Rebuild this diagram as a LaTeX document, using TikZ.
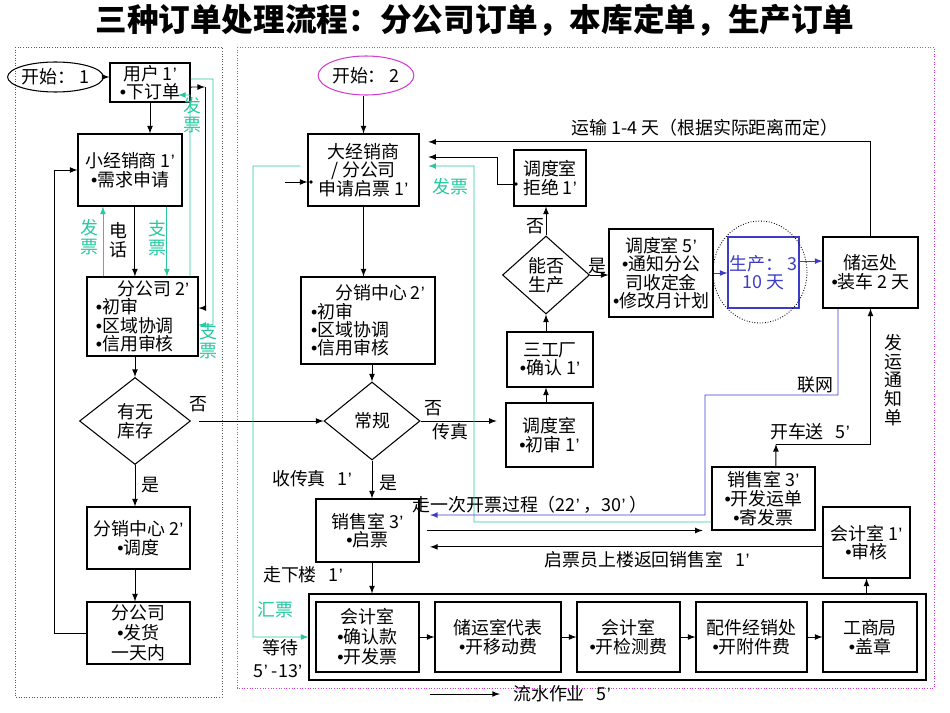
\documentclass[tikz,border=0pt]{standalone}
\usepackage{fontspec}
\setmainfont{Noto Sans CJK SC}
\newfontfamily\xifont{Liberation Sans}
\usetikzlibrary{shapes.geometric}
\definecolor{piao}{RGB}{40,200,160}
\definecolor{wang}{RGB}{60,60,200}
\definecolor{zi}{RGB}{210,60,210}
\newcommand{\pxu}{0.02cm}
\newcommand{\wenzi}{\fontsize{10.2}{10.6}\selectfont}
\newcommand{\jinzi}{\fontsize{10.2}{8.8}\selectfont}
\newcommand{\kuanzi}{\fontsize{10.2}{11.4}\selectfont}
\newcommand{\dian}{{\xifont •}}
\newcommand{\fen}{{\xifont ’}}

\begin{document}
\begin{tikzpicture}[x=0.02cm, y=-0.02cm, >=latex, font=\wenzi, line width=0.5pt,
	kuang/.style 2 args={draw, semithick, inner sep=0pt, align=center, minimum width=#1*\pxu, minimum height=#2*\pxu},
	lingxing/.style 2 args={draw, semithick, diamond, inner sep=0pt, align=center, minimum width=#1*\pxu, minimum height=#2*\pxu},
	tuoyuan/.style 2 args={draw, semithick, ellipse, inner sep=0pt, minimum width=#1*\pxu, minimum height=#2*\pxu},
	lv/.style={piao, text=piao}]
				\useasboundingbox (0,0) rectangle (950,713);
				
				\node (biaoti) at (475,20) {\fontsize{18}{20}\selectfont\bfseries 三种订单处理流程：分公司订单，本库定单，生产订单};
				
				\draw[densely dotted, gray!70!black] (15,47) rectangle (222,697);
				\draw[densely dotted, zi] (237,47) rectangle (934,688);
				
				% fen gong si ding dan
				\node[tuoyuan={79}{30}] (ks1) at (55.5,77) {开始： 1};
				\node[kuang={80}{39}] (yh) at (150,82.5) {用户 1\fen{}\\\dian{}下订单};
				\node[kuang={104}{72}] (xjs) at (130,170) {小经销商 1\fen{}\\\dian{}需求申请};
				\node[kuang={111}{79}, align=left, font=\jinzi] (fgs2) at (142.5,316.5) {\hspace*{1.2em}分公司 2\fen{}\\\dian{}初审\\\dian{}区域协调\\\dian{}信用审核};
				\node[lingxing={111}{87}] (yw) at (135,421) {有无\\库存};
				\node[kuang={103}{62}] (fxzx) at (138.5,538) {分销中心 2\fen{}\\\dian{}调度};
				\node[kuang={103}{62}, font=\kuanzi] (fgs) at (138.5,633) {分公司\\\dian{}发货\\一天内};
				
				\node[text=piao, align=center] (fp1) at (192,115) {发\\票};
				\node[text=piao, align=center] (fp2) at (89,237) {发\\票};
				\node[align=center] (dh) at (118,240) {电\\话};
				\node[text=piao, align=center] (zp1) at (157,238) {支\\票};
				\node[text=piao, align=center] (zp2) at (208,341) {支\\票};
				\node (fou1) at (198,404) {否};
				\node (shi1) at (150,485) {是};
				
				\draw[->] (ks1.east) -- (ks1.east -| yh.west);
				\draw[->] (yh.south) -- (yh.south |- xjs.north);
				\draw[->] ([xshift=2.8pt]xjs.south) -- ([xshift=2.8pt]xjs.south |- fgs2.north);
				\draw[lv,->] ([xshift=-15.4pt]xjs.south |- fgs2.north) -- ([xshift=-15.4pt]xjs.south);
				\draw[lv,->] ([xshift=21pt]xjs.south) -- ([xshift=21pt]xjs.south |- fgs2.north);
				\draw[lv,->] ([yshift=2pt]yh.east) -- (213,79) |- ([yshift=-4.8pt]fgs2.east);
				\coordinate (hx) at (205,87);
				\draw[->] ([yshift=-2.6pt]yh.east) -- (hx);
				\draw[->] (hx) |- ([yshift=4.8pt]fgs2.east);
				\draw[lv,->] ([xshift=27pt]fgs2.north) -- (190,95) -- (178,95);
				\draw[->] (yw.north |- fgs2.south) -- (yw.north);
				\draw[->] (yw.south) -- (yw.south |- fxzx.north);
				\draw[->] (yw.south |- fxzx.south) -- (yw.south |- fgs.north);
				\draw[->] (fgs.west) -- ++(-32,0) |- (xjs.west);
				
				% ben ku / sheng chan
				\node[tuoyuan={88}{39}, draw=zi] (ks2) at (366,75.5) {开始： 2};
				\node[kuang={111}{72}] (djs) at (363.5,170) {大经销商\\/ 分公司\\申请启票 1\fen{}};
				\node[kuang={134}{87}, align=left, font=\jinzi] (fxzx2) at (368,320.5) {\hspace*{1.35em}分销中心 2\fen{}\\\dian{}初审\\\dian{}区域协调\\\dian{}信用审核};
				\node[lingxing={96}{78}] (cg) at (372,421) {常规};
				\node[kuang={87}{64}] (dd1) at (549.5,435) {调度室\\\dian{}初审 1\fen{}};
				\node[kuang={86}{55}] (sgc) at (550,359.5) {三工厂\\\dian{}确认 1\fen{}};
				\node[lingxing={87}{78}] (nf) at (546,275) {能否\\生产};
				\node[kuang={72}{56}] (dd2) at (550,178) {调度室\\拒绝 1\fen{}};
				\node[kuang={104}{88}, font=\jinzi] (dd5) at (661,273) {调度室 5\fen{}\\\dian{}通知分公\\司收定金\\\dian{}修改月计划};
				\node[kuang={71}{71}, draw=wang, text=wang] (sc) at (763.5,272.5) {生产： 3\\10 天};
				\node[kuang={95}{71}] (cyc) at (870.5,272.5) {储运处\\\dian{}装车 2 天};
				\node[kuang={103}{63}] (xss) at (367.5,530.5) {销售室 3\fen{}\\\dian{}启票};
				\node[kuang={103}{63}] (xss3) at (763.5,498.5) {销售室 3\fen{}\\\dian{}开发运单\\\dian{}寄发票};
				\node[kuang={87}{71}] (kjs1) at (866.5,542.5) {会计室 1\fen{}\\\dian{}审核};
				
				\node[kuang={617}{86}] (ls) at (617.5,637) {};
				\node[kuang={103}{70}, font=\kuanzi] (b1) at (367.5,637) {会计室\\\dian{}确认款\\\dian{}开发票};
				\node[kuang={126}{70}] (b2) at (498,637) {储运室代表\\\dian{}开移动费};
				\node[kuang={103}{70}] (b3) at (628.5,637) {会计室\\\dian{}开检测费};
				\node[kuang={111}{70}] (b4) at (751.5,637) {配件经销处\\\dian{}开附件费};
				\node[kuang={94}{70}] (b5) at (870,637) {工商局\\\dian{}盖章};
				
				\draw[densely dotted] (760,272) ellipse [x radius=47, y radius=51];
				\fill (311,182) circle (1.8);
				\fill (516,184) circle (1.8);
				
				\node (yunshu) at (705,128) {运输 1-4 天（根据实际距离而定）};
				\node[text=piao] (fp3) at (450,187) {发票};
				\node (fou2) at (535,226) {否};
				\node (shi2) at (597,266) {是};
				\node (fou3) at (433,408) {否};
				\node (chuanzhen) at (450,432) {传真};
				\node (shouchz) at (312,479) {收传真~~~1\fen{}};
				\node (shi3) at (388,483) {是};
				\node (zouyici) at (530,505) {走一次开票过程（22\fen{}~，30\fen{}~）};
				\node (qpy) at (647,560) {启票员上楼返回销售室~~~1\fen{}};
				\node (zxl) at (303,575) {走下楼~~~1\fen{}};
				\node[text=piao] (hp) at (275,610) {汇票};
				\node (dengdai) at (280,648) {等待};
				\node (shijian) at (278,671) {5\fen{} -13\fen{}};
				\node (lw) at (815,385) {联网};
				\node (kcs) at (810,432) {开车送~~~5\fen{}};
				\node[align=center] (fytzd) at (893,380) {发\\运\\通\\知\\单};
				\node (lszy) at (562,694) {流水作业~~~5\fen{}};
				
				\coordinate (rq) at (285,182);
				\draw[->] (rq) -- (rq -| djs.west);
				\draw[->] (djs.north |- ks2.south) -- (djs.north);
				\draw[->] (djs.south) -- (djs.south |- fxzx2.north);
				\draw[->] (cg.north |- fxzx2.south) -- (cg.north);
				\draw[->, shorten <=4.5pt] (yw.east) -- (cg.west);
				\draw[->, shorten >=5pt] (cg.east) -- (cg.east -| dd1.west);
				\draw[->] (nf.south |- dd1.north) -- (nf.south |- sgc.south);
				\draw[->] (nf.south |- sgc.north) -- (nf.south);
				\draw[->] (nf.north) -- (nf.north |- dd2.south);
				\draw[->] (nf.east) -- (nf.east -| dd5.west);
				\draw[wang,->] (dd5.east) -- (dd5.east -| sc.west);
				\draw[wang,->] ([yshift=6.5pt]sc.east) -- ([yshift=6.5pt]sc.east -| cyc.west);
				\draw[->, shorten >=5pt] (cyc.north) |- ([yshift=16pt]djs.east);
				\draw[->, shorten >=5pt] ([yshift=-3.4pt]dd2.west) -- ++(-16,0) |- ([yshift=7.4pt]djs.east);
				\draw[lv,->, shorten >=5pt] ([yshift=-13.4pt]xss3.west) -- (474,522) -- (474,166) -- (djs.east |- 474,166);
				\draw[lv,->, shorten <=4pt] ([yshift=2.3pt]djs.west) -- (253,166) |- (ls.west);
				\draw[wang,->, shorten >=6pt] ([xshift=-18.5pt]cyc.south) -- (838,395) -- (705,395) |- ([yshift=8.8pt]xss.east);
				\coordinate (kc) at (776,444);
				\draw[->] ([xshift=7pt]xss3.north) -- (kc);
				\draw[->] (kc) -| (cyc.south);
				\draw[->, shorten <=4pt, shorten >=5pt] (xss.east) -- (xss.east -| xss3.west);
				\draw[->, shorten >=6pt] ([yshift=-2.5pt]kjs1.west) -- ([yshift=-2.5pt]kjs1.west -| xss.east);
				\draw[->] (cg.south) -- (cg.south |- xss.north);
				\draw[->] (cg.south |- xss.south) -- (cg.south |- ls.north);
				\draw[->] (kjs1.south |- ls.north) -- (kjs1.south);
				\draw[->] (b1.east) -- (b2.west);
				\draw[->] (b2.east) -- (b3.west);
				\draw[->] (b3.east) -- (b4.west);
				\draw[->] (b4.east) -- (b5.west);
				\draw[->] ([xshift=-44pt]lszy.west) -- ([xshift=-4pt]lszy.west);
			\end{tikzpicture}
\end{document}
